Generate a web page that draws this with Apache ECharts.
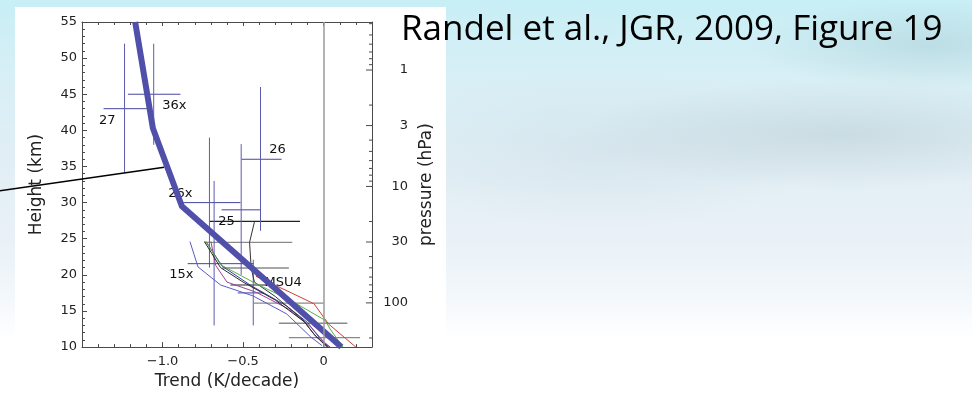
<!DOCTYPE html>
<html>
<head>
<meta charset="utf-8">
<script src="https://cdn.jsdelivr.net/npm/echarts@6/dist/echarts.min.js"></script>
<style>
  html, body { margin: 0; width: 972px; height: 395px; overflow: hidden; }
  body {
    position: relative;
    background:
      radial-gradient(ellipse 260px 55px at 840px 135px, rgba(165, 185, 192, 0.35), rgba(165, 185, 192, 0) 100%),
      radial-gradient(ellipse 180px 45px at 930px 45px, rgba(150, 190, 198, 0.35), rgba(150, 190, 198, 0) 100%),
      radial-gradient(ellipse 220px 80px at 600px 150px, rgba(205, 222, 230, 0.5), rgba(205, 222, 230, 0) 100%),
      linear-gradient(to bottom, #c8eef6 0%, #d8eff5 20%, #e2eef5 42%, #e9f1f7 60%, #f2f7fb 74%, #ffffff 86%, #ffffff 100%);
  }
  #panel { position: absolute; left: 15px; top: 7px; width: 431px; height: 388px; background: #ffffff; }
  #chart { position: absolute; left: 0; top: 0; width: 972px; height: 395px; }
</style>
</head>
<body>
<div id="panel"></div>
<div id="chart"></div>
<script>
// Temperature trend profiles (K/decade) against height (km)

// Fitted model trend profile
const fitTrend  = [-1.17, -1.06, -0.88, 0.11];
const fitHeight = [55.0, 40.3, 29.5, 10.0];

// Satellite channel trends: centre trend, weighting height, trend range, height range
const crossNames     = ['27', '36x', '26', '26x', '25', '15x', 'MSU4'];
const crossTrend     = [-1.236, -1.055, -0.392, -0.709, -0.512, -0.680, -0.437];
const crossHeight    = [43.0, 45.0, 36.0, 30.0, 29.0, 21.55, 17.5];
const crossTrendLo   = [-1.366, -1.215, -0.510, -0.873, -0.634, -0.844, -0.533];
const crossTrendHi   = [-1.097, -0.889, -0.261, -0.516, -0.392, -0.433, -0.371];
const crossHeightLo  = [34.1, 38.0, 26.1, 21.0, 20.0, 13.0, 13.0];
const crossHeightHi  = [52.0, 52.0, 46.0, 39.0, 38.1, 33.0, 22.1];

// Channel label anchors (trend, height)
const labelNames  = ['27', '36x', '26', '26x', '25', '15x', 'MSU4'];
const labelTrend  = [-1.343, -0.927, -0.286, -0.889, -0.603, -0.883, -0.252];
const labelHeight = [41.4, 43.4, 37.4, 31.3, 27.3, 20.1, 18.9];

// Trend uncertainty ranges at fixed levels
const grayBarHeight  = [24.5, 20.95, 16.1, 13.3, 11.3];
const grayBarLo      = [-0.740, -0.630, -0.433, -0.278, -0.216];
const grayBarHi      = [-0.195, -0.216, 0.0, 0.147, 0.226];
const blackBarHeight = [27.4, 18.6];
const blackBarLo     = [-0.709, -0.578];
const blackBarHi     = [-0.147, -0.350];

// Radiosonde trend profiles [trend, height]
const profileBlue   = [[-0.83, 24.6], [-0.78, 21.1], [-0.64, 18.6], [-0.44, 17.1], [-0.23, 14.6], [-0.08, 11.4], [-0.01, 10.2]];
const profileNavy   = [[-0.73, 24.6], [-0.63, 21.2], [-0.45, 18.5], [-0.23, 15.7], [-0.10, 13.4], [-0.02, 11.1], [0.04, 10.0]];
const profilePurple = [[-0.70, 24.6], [-0.67, 21.3], [-0.60, 19.0], [-0.42, 17.6], [-0.22, 15.3], [-0.08, 12.8], [0.03, 10.0]];
const profileBlack  = [[-0.74, 24.6], [-0.64, 21.0], [-0.50, 19.0], [-0.30, 16.5], [-0.12, 13.5], [-0.05, 11.5], [0.03, 10.0]];
const profileDark   = [[-0.43, 27.3], [-0.46, 24.5], [-0.45, 21.0], [-0.43, 19.0], [-0.30, 17.0], [-0.13, 13.8], [-0.06, 11.8], [0.02, 10.0]];
const profileGreen  = [[-0.73, 24.6], [-0.64, 21.4], [-0.43, 18.9], [-0.20, 16.4], [0.01, 13.7], [0.04, 12.5], [0.12, 10.0]];
const profileRed    = [[-0.42, 19.8], [-0.20, 17.5], [-0.06, 16.0], [0.03, 13.2], [0.20, 10.0]];

// Pointer line running in from the left margin
const pointerTrend  = [-2.01, -0.99];
const pointerHeight = [31.64, 34.9];

// Axis ranges and pressure scale
const trendMin = -1.5, trendMax = 0.3;
const heightMin = 10, heightMax = 55;
const pressureMajor  = [1, 3, 10, 30, 100];
const pressureLabels = ['1', '3', '10', '30', '100'];
const pressureMinor  = [0.4, 0.5, 0.6, 0.7, 0.8, 0.9, 2, 4, 5, 6, 7, 8, 9, 20, 40, 50, 60, 70, 80, 90, 200];
const scaleHeight = 7;        // km
const surfacePressure = 1000; // hPa

const FONT = 'DejaVu Sans';
const AXIS_COLOR = '#4a4a4a';

function pressureToHeight(p) {
  return scaleHeight * Math.log(surfacePressure / p);
}

const chart = echarts.init(document.getElementById('chart'), null, { renderer: 'canvas' });

function hBarSeries(heights, lo, hi, color, width) {
  return {
    type: 'custom',
    coordinateSystem: 'cartesian2d',
    silent: true,
    data: heights.map((h, i) => [lo[i], h, hi[i]]),
    renderItem(params, api) {
      const a = api.coord([api.value(0), api.value(1)]);
      const b = api.coord([api.value(2), api.value(1)]);
      return {
        type: 'line',
        shape: { x1: a[0], y1: a[1], x2: b[0], y2: b[1] },
        style: { stroke: color, lineWidth: width }
      };
    }
  };
}

function profileSeries(points, color) {
  return {
    type: 'line',
    data: points,
    symbol: 'none',
    silent: true,
    lineStyle: { color: color, width: 1 }
  };
}

const pressureTicks = pressureMajor.map((p, i) => [p, 1, i]).concat(pressureMinor.map(p => [p, 0, -1]));

const option = {
  animation: false,
  backgroundColor: 'transparent',
  textStyle: { fontFamily: FONT },
  title: {
    text: 'Randel et al., JGR, 2009, Figure 19',
    left: 396,
    top: 8,
    textStyle: { fontFamily: 'Open Sans', fontSize: 35, fontWeight: 'normal', color: '#000' }
  },
  grid: { left: 82, right: 600, top: 22, bottom: 43, show: false },
  xAxis: [
    {
      type: 'value', position: 'bottom', min: trendMin, max: trendMax, interval: 0.5,
      name: 'Trend (K/decade)', nameLocation: 'middle', nameGap: 25,
      nameTextStyle: { fontSize: 17, color: '#222', fontFamily: FONT },
      axisLine: { show: true, lineStyle: { color: AXIS_COLOR, width: 1 } },
      axisTick: { show: true, inside: true, length: 5, lineStyle: { color: AXIS_COLOR } },
      minorTick: { show: true, splitNumber: 5, length: 3, lineStyle: { color: AXIS_COLOR } },
      splitLine: { show: false },
      axisLabel: {
        margin: 8, fontSize: 13, color: '#222', showMaxLabel: false, showMinLabel: false,
        formatter: v => {
          if (Math.abs(v - trendMin) < 1e-9 || Math.abs(v - trendMax) < 1e-9) return '';
          if (Math.abs(v) < 1e-9) return '0';
          return (v < 0 ? '\u2212' : '') + Math.abs(v).toFixed(1);
        }
      }
    },
    {
      type: 'value', position: 'top', min: trendMin, max: trendMax, interval: 0.5,
      axisLine: { show: true, onZero: false, lineStyle: { color: AXIS_COLOR, width: 1 } },
      axisTick: { show: true, inside: true, length: 4, lineStyle: { color: AXIS_COLOR } },
      minorTick: { show: true, splitNumber: 5, length: 3, lineStyle: { color: AXIS_COLOR } },
      splitLine: { show: false },
      axisLabel: { show: false }
    }
  ],
  yAxis: [
    {
      type: 'value', position: 'left', min: heightMin, max: heightMax, interval: 5,
      name: 'Height (km)', nameLocation: 'middle', nameGap: 37, nameRotate: 90,
      nameTextStyle: { fontSize: 17, color: '#222', fontFamily: FONT },
      axisLine: { show: true, onZero: false, lineStyle: { color: AXIS_COLOR, width: 1 } },
      axisTick: { show: true, inside: true, length: 5, lineStyle: { color: AXIS_COLOR } },
      minorTick: { show: true, splitNumber: 5, length: 3, lineStyle: { color: AXIS_COLOR } },
      splitLine: { show: false },
      axisLabel: { margin: 5, fontSize: 13, color: '#222' }
    },
    {
      type: 'value', position: 'right', min: heightMin, max: heightMax, interval: 5,
      name: 'pressure (hPa)', nameLocation: 'middle', nameGap: 46, nameRotate: 90,
      nameTextStyle: { fontSize: 17, color: '#222', fontFamily: FONT },
      axisLine: { show: true, onZero: false, lineStyle: { color: AXIS_COLOR, width: 1 } },
      axisTick: { show: false },
      splitLine: { show: false },
      axisLabel: { show: false }
    }
  ],
  series: [
    // zero-trend reference line
    {
      type: 'line', data: [], silent: true,
      markLine: {
        silent: true, symbol: 'none', label: { show: false },
        lineStyle: { color: '#9a9a9a', width: 1.5, type: 'solid' },
        data: [{ xAxis: 0 }]
      }
    },
    hBarSeries(grayBarHeight, grayBarLo, grayBarHi, '#8a8a8a', 1.3),
    hBarSeries(blackBarHeight, blackBarLo, blackBarHi, '#222222', 1.1),
    profileSeries(profileBlue, '#5a5ac8'),
    profileSeries(profileNavy, '#3a3aa0'),
    profileSeries(profilePurple, '#a2409a'),
    profileSeries(profileBlack, '#2a2a2a'),
    profileSeries(profileDark, '#333333'),
    profileSeries(profileGreen, '#58b040'),
    profileSeries(profileRed, '#d23a3a'),
    // satellite channel crosses
    {
      type: 'custom',
      coordinateSystem: 'cartesian2d',
      silent: true,
      data: crossTrend.map((x, i) => [x, crossHeight[i], crossTrendLo[i], crossTrendHi[i], crossHeightLo[i], crossHeightHi[i]]),
      renderItem(params, api) {
        const a = api.coord([api.value(2), api.value(1)]);
        const b = api.coord([api.value(3), api.value(1)]);
        const c = api.coord([api.value(0), api.value(4)]);
        const d = api.coord([api.value(0), api.value(5)]);
        return {
          type: 'group',
          children: [
            { type: 'line', shape: { x1: a[0], y1: a[1], x2: b[0], y2: b[1] }, style: { stroke: '#44449e', lineWidth: 1 } },
            { type: 'line', shape: { x1: c[0], y1: c[1], x2: d[0], y2: d[1] }, style: { stroke: '#5c5cae', lineWidth: 1 } }
          ]
        };
      }
    },
    // channel labels
    {
      type: 'custom',
      coordinateSystem: 'cartesian2d',
      silent: true,
      data: labelTrend.map((x, i) => [x, labelHeight[i], i]),
      renderItem(params, api) {
        const p = api.coord([api.value(0), api.value(1)]);
        return {
          type: 'text',
          x: p[0], y: p[1],
          style: {
            text: labelNames[api.value(2)],
            fill: '#111', font: '13px "DejaVu Sans"',
            align: 'center', verticalAlign: 'middle'
          }
        };
      }
    },
    // pointer line from the left margin
    {
      type: 'custom',
      coordinateSystem: 'cartesian2d',
      silent: true,
      clip: false,
      data: [[pointerTrend[0], pointerHeight[0], pointerTrend[1], pointerHeight[1]]],
      renderItem(params, api) {
        const a = api.coord([api.value(0), api.value(1)]);
        const b = api.coord([api.value(2), api.value(3)]);
        return {
          type: 'line',
          shape: { x1: a[0], y1: a[1], x2: b[0], y2: b[1] },
          style: { stroke: '#000', lineWidth: 1.5 }
        };
      }
    },
    // pressure scale on the right axis
    {
      type: 'custom',
      coordinateSystem: 'cartesian2d',
      silent: true,
      clip: false,
      data: pressureTicks,
      renderItem(params, api) {
        const h = pressureToHeight(api.value(0));
        if (h < heightMin - 1e-6 || h > heightMax + 1e-6) return null;
        const pt = api.coord([trendMax, h]);
        const major = api.value(1) === 1;
        const len = major ? 6 : 3;
        const children = [
          { type: 'line', shape: { x1: pt[0] - len, y1: pt[1], x2: pt[0], y2: pt[1] }, style: { stroke: AXIS_COLOR, lineWidth: 1 } }
        ];
        if (major) {
          children.push({
            type: 'text', x: pt[0] + 36, y: pt[1],
            style: { text: pressureLabels[api.value(2)], fill: '#222', font: '13px "DejaVu Sans"', align: 'right', verticalAlign: 'middle' }
          });
        }
        return { type: 'group', children };
      }
    },
    // fitted profile, drawn on top
    {
      type: 'line',
      data: fitTrend.map((x, i) => [x, fitHeight[i]]),
      symbol: 'none', silent: true,
      lineStyle: { color: '#5050aa', width: 6, cap: 'butt', join: 'miter' }
    }
  ]
};

chart.setOption(option);
</script>
</body>
</html>
